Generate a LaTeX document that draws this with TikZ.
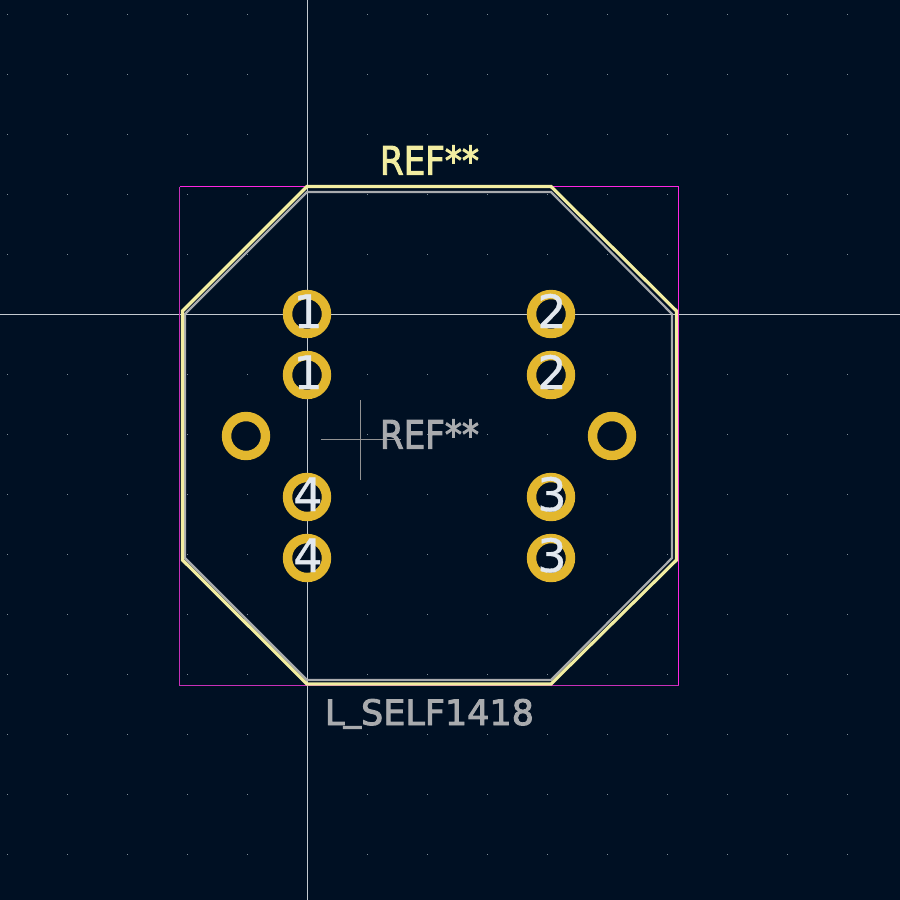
\documentclass[tikz,border=0pt]{standalone}
\usepackage{fontspec}
\setmainfont{DejaVu Sans}
\newfontfamily\strokefont[FakeBold=2.6]{DejaVu Sans}
\newfontfamily\numfont[FakeBold=0.8]{DejaVu Sans}
\definecolor{bgc}{HTML}{001023}
\definecolor{padc}{HTML}{E3B72E}
\definecolor{silk}{HTML}{F2EDA1}
\definecolor{fabc}{HTML}{A9ABAE}
\definecolor{crtc}{HTML}{FF26E2}
\definecolor{crtd}{HTML}{C830B8}
\definecolor{axisc}{HTML}{C4CAD0}
\definecolor{gridc}{HTML}{7F8B95}
\definecolor{numc}{HTML}{E2E8EE}
\tikzset{
  x=1pt,y=-1pt,
  padring/.style={circle,draw=padc,line width=9.4pt,fill=bgc,minimum size=39pt,inner sep=0pt,outer sep=0pt},
  padnum/.style={text=numc,font=\numfont\fontsize{46}{46}\selectfont,inner sep=0pt,anchor=base,yshift=-14pt,xshift=1pt},
  silkline/.style={draw=silk,line width=3.2pt,line join=miter},
  fabline/.style={draw=fabc,line width=2.2pt,line join=miter},
  courtyard/.style={draw=crtc,line width=1pt},
  courtyarddim/.style={draw=crtd,line width=1pt},
  axisline/.style={draw=axisc,line width=1pt},
  anchorline/.style={draw=gray!85,line width=1pt},
  griddot/.style={fill=gridc,draw=none},
  silktext/.style={text=silk,inner sep=0pt,anchor=base,font=\strokefont\fontsize{38}{38}\selectfont},
  fabtext/.style={text=fabc,inner sep=0pt,anchor=base,font=\strokefont\fontsize{38}{38}\selectfont}
}
\begin{document}
\begin{tikzpicture}
\useasboundingbox (0,0) rectangle (900,900);
\fill[bgc] (0,0) rectangle (900,900);
% grid
\foreach \i in {0,...,14}{\foreach \j in {0,...,14}{
  \fill[griddot] ({7+60*\i},{14+60*\j}) rectangle ++(1.3,1.3);
}}
% axes
\coordinate (axT) at (307.5,0); \coordinate (axB) at (307.5,900);
\coordinate (axL) at (0,314.5); \coordinate (axR) at (900,314.5);
\draw[axisline] (axT) -- (axB);
\draw[axisline] (axL) -- (axR);
% courtyard
\coordinate (cTL) at (179.5,186.5); \coordinate (cTR) at (678.5,186.5);
\coordinate (cBR) at (678.5,685);   \coordinate (cBL) at (179.5,685);
\draw[courtyarddim] (cBR) -- (cBL) -- (cTL);
\draw[courtyard] (cTL) -- (cTR) -- (cBR);
% fabrication outline
\draw[fabline] (307,192) -- (551,192) -- (672,314) -- (672,558) -- (551,680) -- (307,680) -- (185,558) -- (185,314) -- cycle;
% silkscreen outline
\draw[silkline] (307,186.5) -- (551,186.5) -- (676.5,311) -- (676.5,560) -- (551,684) -- (307,684) -- (182.5,560) -- (182.5,311) -- cycle;
% anchor cross
\coordinate (aT) at (360.5,400); \coordinate (aB) at (360.5,480);
\coordinate (aL) at (321,439); \coordinate (aR) at (401,439);
\draw[anchorline] (aT) -- (aB);
\draw[anchorline] (aL) -- (aR);
% pads
\node[padring] (p1a) at (307,314) {};
\node[padring] (p1b) at (307,375) {};
\node[padring] (p2a) at (551,314) {};
\node[padring] (p2b) at (551,375) {};
\node[padring] (p4a) at (307,497) {};
\node[padring] (p4b) at (307,558) {};
\node[padring] (p3a) at (551,497) {};
\node[padring] (p3b) at (551,558) {};
\node[padring] (mL) at (246,436) {};
\node[padring] (mR) at (612,436) {};
\node[padnum] at (p1a) {1};
\node[padnum] at (p1b) {1};
\node[padnum] at (p2a) {2};
\node[padnum] at (p2b) {2};
\node[padnum] at (p4a) {4};
\node[padnum] at (p4b) {4};
\node[padnum] at (p3a) {3};
\node[padnum] at (p3b) {3};
% texts
\node[silktext] (refT) at (429.5,174.5) {\resizebox{99pt}{29pt}{REF**}};
\node[fabtext] (refF) at (429.5,448.5) {\resizebox{99pt}{29pt}{REF**}};
\node[fabtext] (val) at (429.5,725) {\resizebox{209pt}{26pt}{L\kern-1pt\raisebox{5pt}{\_}SELF1418}};
\end{tikzpicture}
\end{document}
